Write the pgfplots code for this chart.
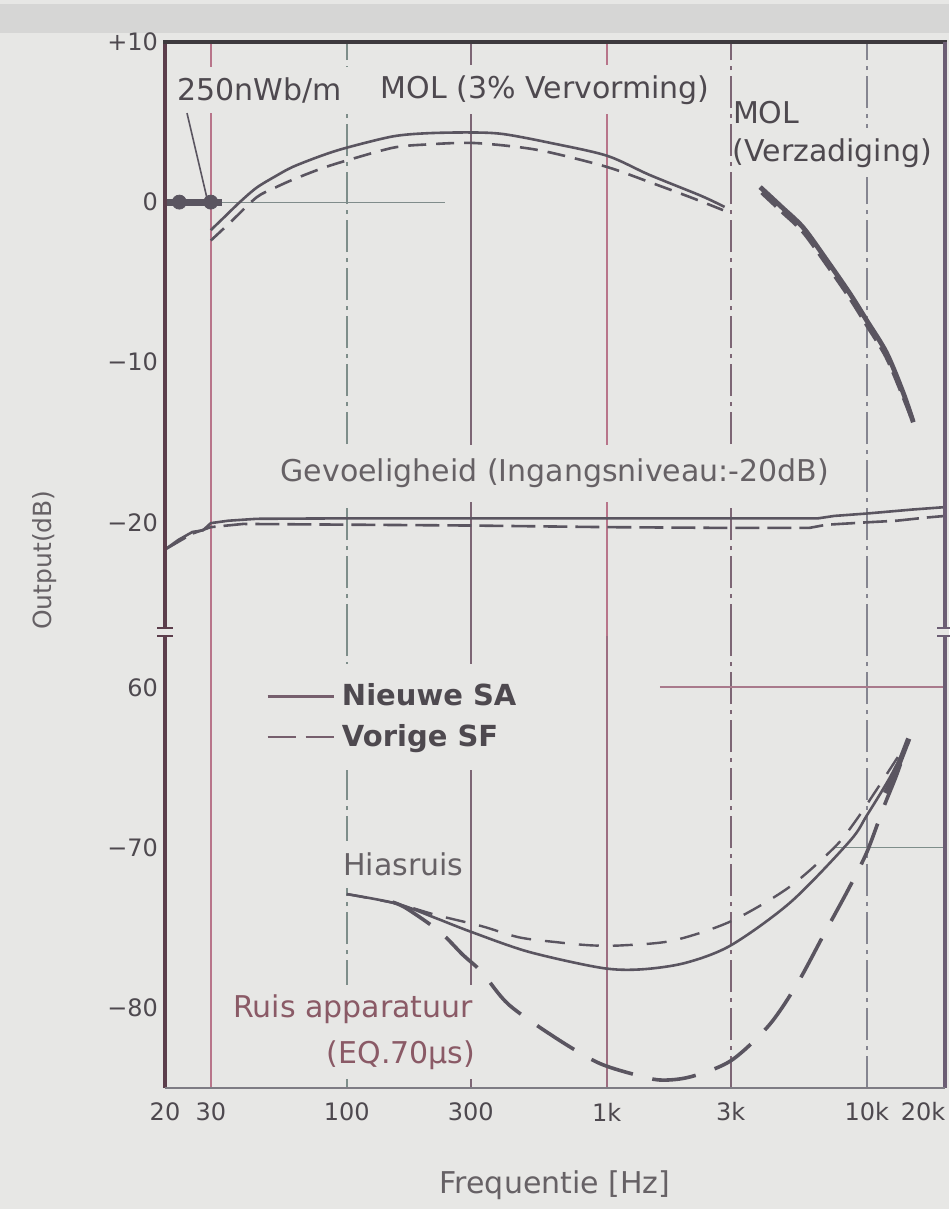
\documentclass[border=0pt]{standalone}
\usepackage{fontspec}
\setmainfont{DejaVu Sans}
\usepackage{pgfplots}
\pgfplotsset{compat=1.18}

\definecolor{bg}{HTML}{E7E7E5}
\definecolor{band}{HTML}{D6D6D5}
\definecolor{ink}{HTML}{4E494F}
\definecolor{inkl}{HTML}{666165}
\definecolor{inkr}{HTML}{8A5A66}
\definecolor{crv}{HTML}{5A5560}
\definecolor{gred}{HTML}{B8758A}
\definecolor{gpur}{HTML}{7D6675}
\definecolor{ggrn}{HTML}{7E8E8A}
\definecolor{ggry}{HTML}{858590}
\definecolor{fl}{HTML}{5C3E4C}
\definecolor{ft}{HTML}{3E3A3E}
\definecolor{fr}{HTML}{6C5E74}
\definecolor{fb}{HTML}{7E7C84}

\newcommand{\fA}{\fontsize{15}{17}\selectfont}
\newcommand{\fT}{\fontsize{12}{14}\selectfont}

\tikzset{
  dashdot/.style={dash pattern=on 16pt off 3pt on 2pt off 3pt},
  solidc/.style={crv, line width=1.3pt},
  dashc/.style={crv, line width=1.3pt, dash pattern=on 9pt off 5pt},
}

\begin{document}
\begin{tikzpicture}
\fill[bg] (0,0) rectangle (474.5pt,-604.5pt);
\useasboundingbox (0,0) rectangle (474.5pt,-604.5pt);
\fill[band] (0,-2pt) rectangle (474.5pt,-16.5pt);

% ---------------- upper part ----------------
\begin{axis}[name=top, at={(82.5pt,-21pt)}, anchor=north west,
  scale only axis, width=390pt, height=293pt,
  xmode=log, xmin=20, xmax=20000, ymin=-26.6, ymax=10,
  clip=false, axis line style={draw=none}, major tick length=0pt, minor tick length=0pt,
  xtick=\empty, ytick={-20,-10,0,10}, yticklabels={−20,−10,0,+10},
  yticklabel style={font=\fT, text=ink},
  ylabel={Output(dB)},
  ylabel style={at={(axis description cs:-0.1538,0.116)}, anchor=center, font=\fontsize{12.5}{14}\selectfont, text=inkl},
]
% grid lines
\addplot[forget plot, gred, line width=1.2pt] coordinates {(30,-27.1) (30,10)};
\addplot[forget plot, ggrn, line width=1pt, dashdot] coordinates {(100,-27.1) (100,10)};
\addplot[forget plot, gpur, line width=1.2pt] coordinates {(300,-27.1) (300,10)};
\addplot[forget plot, gred, line width=1.2pt] coordinates {(1000,-27.1) (1000,10)};
\addplot[forget plot, gpur, line width=1pt, dashdot] coordinates {(3000,-27.1) (3000,10)};
\addplot[forget plot, ggry, line width=1pt, dashdot] coordinates {(10000,-27.1) (10000,10)};
\addplot[forget plot, ggrn!80!ggry, line width=0.6pt] coordinates {(20,0) (238,0)};

% labels
\node[anchor=base west, fill=bg, inner xsep=3pt, inner ysep=5pt, text=ink, font=\fA] at (axis cs:21.1,6.375) {250nWb/m};
\node[anchor=base, fill=bg, inner xsep=3pt, inner ysep=5pt, text=ink, font=\fA] at (axis cs:580,6.5) {MOL (3\% Vervorming)};
\node[anchor=base west, inner sep=0pt, text=ink, font=\fA] at (axis cs:3050,4.94) {MOL};
\node[anchor=base west, fill=bg, inner xsep=0pt, inner ysep=5pt, text=ink, font=\fA] at (axis cs:3040,2.56) {(Verzadiging)};
\node[anchor=base, fill=bg, inner xsep=3pt, inner ysep=7pt, text=inkl, font=\fA] at (axis cs:632,-17.44) {Gevoeligheid (Ingangsniveau:-20dB)};

% 250 nWb/m reference
\addplot[forget plot, crv, line width=3.5pt] coordinates {(20,0) (33,0)};
\addplot[forget plot, crv, only marks, mark=*, mark size=3.5pt] coordinates {(22.7,0) (30,0)};
\addplot[forget plot, crv, line width=0.8pt] coordinates {(24.3,5.56) (29.0,0.25)};

% MOL 3% distortion
\addplot[forget plot, solidc, smooth] coordinates {(30,-1.75) (34,-0.9) (38.8,0) (45,0.9) (53,1.6) (62,2.2) (80,2.9) (100,3.4) (150,4.1) (203,4.3) (300,4.35) (400,4.25) (606,3.7) (1000,2.9) (1460,1.7) (2300,0.4) (2840,-0.3)};
\addplot[forget plot, dashc, smooth] coordinates {(30,-2.4) (36,-1.2) (45,0.3) (53,0.9) (62,1.4) (80,2.1) (100,2.6) (151,3.4) (203,3.6) (300,3.7) (450,3.45) (606,3.1) (1000,2.2) (1460,1.25) (2100,0.3) (2800,-0.5)};

% MOL saturation
\addplot[forget plot, crv, line width=2.4pt, smooth] coordinates {(3890,0.94) (4700,-0.3) (5700,-1.6) (7000,-3.6) (8600,-5.7) (10000,-7.4) (11900,-9.4) (13800,-11.9) (15100,-13.75)};
\addplot[forget plot, crv, line width=2.2pt, dash pattern=on 10pt off 4pt, smooth] coordinates {(3950,0.6) (4700,-0.55) (5700,-1.85) (7000,-3.85) (8600,-5.95) (10000,-7.65) (11900,-9.65) (13800,-12.1) (15000,-13.6)};

% sensitivity
\addplot[forget plot, solidc] coordinates {(20,-21.7) (22.5,-21.1) (25.5,-20.6) (28,-20.5) (30,-20.05) (35,-19.9) (45,-19.78) (100,-19.75) (1000,-19.75) (3000,-19.75) (6500,-19.75) (7500,-19.6) (10000,-19.45) (15000,-19.2) (20000,-19.05)};
\addplot[forget plot, crv, line width=1.3pt, dash pattern=on 12pt off 4pt] coordinates {(20,-21.7) (25.5,-20.7) (30,-20.3) (40,-20.1) (300,-20.2) (1000,-20.3) (3000,-20.35) (6000,-20.35) (7000,-20.15) (10000,-20.0) (13000,-19.9) (17000,-19.7) (20000,-19.6)};
\end{axis}

% ---------------- lower part ----------------
\begin{axis}[name=bot, at={(82.5pt,-318pt)}, anchor=north west,
  scale only axis, width=390pt, height=226pt,
  xmode=log, xmin=20, xmax=20000, ymin=-85, ymax=-56.8,
  clip=false, axis line style={draw=none}, major tick length=0pt, minor tick length=0pt,
  xtick={20,30,100,300,1000,3000,10000},
  xticklabels={20,30,100,300,1k,3k,10k},
  xticklabel style={anchor=center, yshift=-12pt, font=\fT, text=ink},
  extra x ticks={20000}, extra x tick labels={20k},
  extra x tick style={xticklabel style={xshift=-11pt}},
  ytick={-80,-70,-60}, yticklabels={−80,−70,60},
  yticklabel style={font=\fT, text=ink},
  xlabel={Frequentie [Hz]},
  xlabel style={at={(axis description cs:0.5,0)}, anchor=center, yshift=-48.5pt, font=\fA, text=inkl},
  legend image code/.code={\draw[#1] (0pt,0pt) -- (33pt,0pt);},
  legend style={at={(axis description cs:0.1269,0.9394)}, anchor=north west,
    draw=none, fill=bg, inner xsep=1pt, inner ysep=8pt, row sep=3.9pt, column sep=1.5pt,
    font=\bfseries\fontsize{14.5}{16}\selectfont, text=ink},
  legend cell align=left,
]
\addplot[forget plot, gred, line width=1.2pt] coordinates {(30,-85) (30,-56.8)};
\addplot[forget plot, ggrn, line width=1pt, dashdot] coordinates {(100,-85) (100,-56.8)};
\addplot[forget plot, gpur, line width=1.2pt] coordinates {(300,-85) (300,-56.8)};
\addplot[forget plot, gred!55!gpur, line width=1.2pt] coordinates {(1000,-85) (1000,-56.8)};
\addplot[forget plot, gpur, line width=1pt, dashdot] coordinates {(3000,-85) (3000,-56.8)};
\addplot[forget plot, ggry, line width=1pt, dashdot] coordinates {(10000,-85) (10000,-56.8)};
\addplot[forget plot, gred!70!ggry, line width=0.8pt] coordinates {(1600,-60) (20000,-60)};
\addplot[forget plot, ggrn, line width=0.8pt] coordinates {(7600,-70) (20000,-70)};

\node[anchor=base, fill=bg, inner xsep=2pt, inner ysep=6pt, text=inkl, font=\fA] at (axis cs:165,-71.75) {Hiasruis};
\node[anchor=base west, fill=bg, inner xsep=3pt, inner ysep=5pt, text=inkr, font=\fA] at (axis cs:34.6,-80.6) {Ruis apparatuur};
\node[anchor=base east, fill=bg, inner xsep=3pt, inner ysep=5pt, text=inkr, font=\fA] at (axis cs:330,-83.44) {(EQ.70µs)};

% hiss
\addplot[forget plot, solidc, smooth] coordinates {(100,-72.9) (156,-73.5) (220,-74.4) (300,-75.25) (500,-76.5) (950,-77.5) (1350,-77.6) (2000,-77.2) (3000,-76.1) (5100,-73.4) (8600,-69.6) (10000,-68.0) (12300,-65.6) (14500,-63.3)};
\addplot[forget plot, crv, line width=1.2pt, dash pattern=on 10pt off 7pt, smooth] coordinates {(100,-72.9) (156,-73.5) (220,-74.2) (330,-74.9) (460,-75.6) (640,-75.9) (870,-76.1) (1150,-76.1) (1800,-75.8) (3000,-74.6) (5000,-72.5) (7500,-70.0) (9000,-68.4) (11000,-66.3) (14500,-63.3)};
% apparatus noise
\addplot[forget plot, crv, line width=1.8pt, dash pattern=on 22pt off 10pt, smooth] coordinates {(150,-73.4) (170,-73.8) (228,-75.25) (280,-76.7) (330,-77.75) (420,-79.8) (640,-81.9) (920,-83.4) (1240,-84.1) (1600,-84.5) (2100,-84.3) (3000,-83.3) (4200,-81.1) (5400,-78.5) (6900,-75.3) (8500,-72.6) (10000,-70.3) (11600,-67.5) (13000,-65.5) (14500,-63.3)};
\addplot[forget plot, crv, line width=2.6pt] coordinates {(11800,-66.6) (13000,-65.2) (14500,-63.2)};

\addlegendimage{line width=1.3pt, color=crv!70!gred}
\addlegendentry{Nieuwe SA}
\addlegendimage{line width=1.3pt, color=crv!70!gred, dash pattern=on 14pt off 5pt}
\addlegendentry{Vorige SF}
\end{axis}

% frames
\draw[fl, line width=1.8pt] (top.south west) -- (top.north west);
\draw[ft, line width=1.8pt] ([xshift=-0.9pt]top.north west) -- ([xshift=1pt]top.north east);
\draw[fr, line width=2pt] (top.north east) -- (top.south east);
\draw[fl, line width=1.8pt] (bot.south west) -- (bot.north west);
\draw[fr, line width=2pt] (bot.north east) -- (bot.south east);
\draw[fb, line width=1.2pt] (bot.south west) -- (bot.south east);
\draw[fl, line width=1.2pt] ([xshift=-4pt]top.south west) -- ([xshift=4pt]top.south west);
\draw[fl, line width=1.2pt] ([xshift=-4pt]bot.north west) -- ([xshift=4pt]bot.north west);
\draw[fr, line width=1.2pt] ([xshift=-4pt]top.south east) -- ([xshift=4pt]top.south east);
\draw[fr, line width=1.2pt] ([xshift=-4pt]bot.north east) -- ([xshift=4pt]bot.north east);
\end{tikzpicture}
\end{document}
